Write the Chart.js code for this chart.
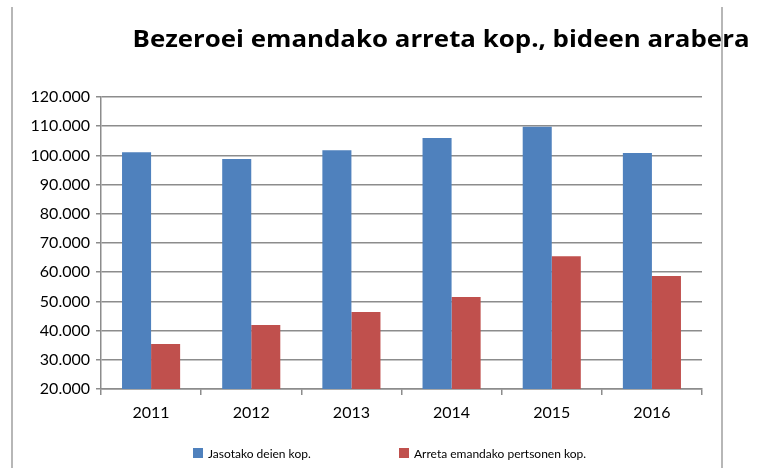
<!DOCTYPE html>
<html>
<head>
<meta charset="utf-8">
<script src="https://cdn.jsdelivr.net/npm/chart.js@4"></script>
<style>
  html, body { margin: 0; padding: 0; background: #fff; }
  #wrap { width: 767px; height: 468px; }
</style>
</head>
<body>
<div id="wrap"><canvas id="chart"></canvas></div>
<script>
const years = ['2011', '2012', '2013', '2014', '2015', '2016']
const deiak = [101100, 98800, 101800, 106000, 109800, 100800]
const arreta = [35400, 41900, 46400, 51500, 65500, 58700]
const seriesNames = ['Jasotako deien kop.', 'Arreta emandako pertsonen kop.']
const titleText = 'Bezeroei emandako arreta kop., bideen arabera'

const FONT = 'Lato, "Open Sans", sans-serif'

// frame, title and legend drawn by hand (Excel look)
const excelDecor = {
  id: 'excelDecor',
  afterDraw(chart) {
    const ctx = chart.ctx
    ctx.save()
    // title (the original is a bit wide, so stretch it to ~617px)
    ctx.fillStyle = '#000'
    ctx.font = 'bold 23px "Open Sans", sans-serif'
    ctx.textAlign = 'center'
    ctx.textBaseline = 'alphabetic'
    const sx = 617 / ctx.measureText(titleText).width
    ctx.save()
    ctx.translate(441, 47)
    ctx.scale(sx, 1)
    ctx.fillText(titleText, 0, 0)
    ctx.restore()

    // legend
    const legendX = [193, 399]
    ctx.font = '12px ' + FONT
    ctx.textAlign = 'left'
    ctx.textBaseline = 'middle'
    chart.data.datasets.forEach(function (ds, i) {
      ctx.fillStyle = ds.backgroundColor
      ctx.fillRect(legendX[i], 448, 10, 10)
      ctx.fillStyle = '#000'
      ctx.fillText(ds.label, legendX[i] + 15, 454)
    })

    // chart frame lines
    ctx.strokeStyle = '#a0a0a0'
    ctx.lineWidth = 1.5
    ctx.beginPath()
    ctx.moveTo(12, 7); ctx.lineTo(12, 468)
    ctx.moveTo(722, 7); ctx.lineTo(722, 468)
    ctx.stroke()
    ctx.restore()
  }
}

new Chart(document.getElementById('chart'), {
  type: 'bar',
  data: {
    labels: years,
    datasets: [
      {
        label: seriesNames[0],
        data: deiak,
        backgroundColor: '#4F81BD',
        categoryPercentage: 0.58,
        barPercentage: 1.0
      },
      {
        label: seriesNames[1],
        data: arreta,
        backgroundColor: '#C0504D',
        categoryPercentage: 0.58,
        barPercentage: 1.0
      }
    ]
  },
  options: {
    responsive: true,
    maintainAspectRatio: false,
    animation: false,
    layout: { padding: { left: 0, right: 65, top: 97, bottom: 0 } },
    plugins: {
      legend: { display: false },
      title: { display: false },
      tooltip: { enabled: false }
    },
    scales: {
      x: {
        grid: {
          offset: true,
          drawOnChartArea: false,
          drawTicks: true,
          tickLength: 6,
          color: '#8c8c8c',
          lineWidth: 1.5
        },
        border: { color: '#8c8c8c', width: 1.5 },
        ticks: { color: '#000', font: { family: FONT, size: 16 }, padding: 8 },
        afterFit: function (scale) { scale.height = 79 }
      },
      y: {
        min: 20000,
        max: 120000,
        ticks: {
          stepSize: 10000,
          color: '#000',
          font: { family: FONT, size: 16 },
          padding: 6,
          callback: function (v) {
            return v.toString().replace(/\B(?=(\d{3})+(?!\d))/g, '.')
          }
        },
        grid: { color: '#8c8c8c', lineWidth: 1.5, tickLength: 5 },
        border: { color: '#8c8c8c', width: 1.5 },
        afterFit: function (scale) { scale.width = 101 }
      }
    }
  },
  plugins: [excelDecor]
})
</script>
</body>
</html>
